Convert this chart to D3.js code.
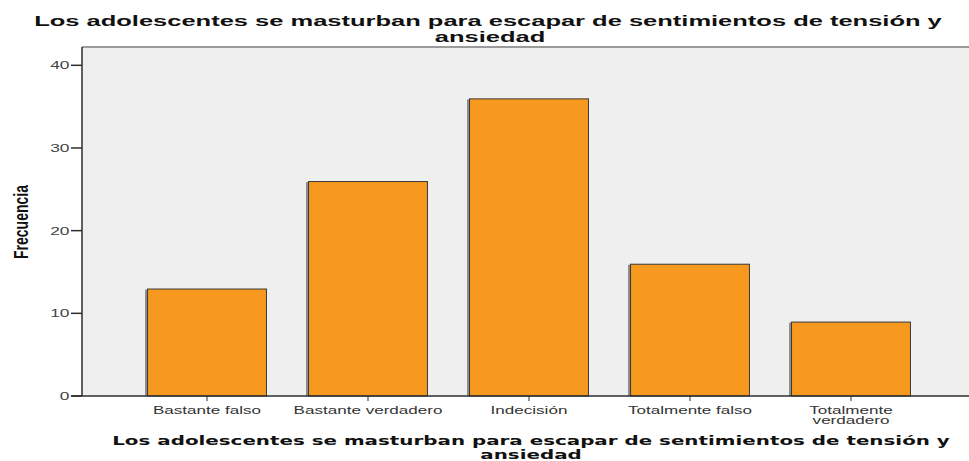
<!DOCTYPE html>
<html>
<head>
<meta charset="utf-8">
<script src="https://cdn.jsdelivr.net/npm/d3@7"></script>
<style>
  html, body { margin: 0; padding: 0; background: #fff; }
  svg { display: block; }
</style>
</head>
<body>
<svg id="chart" width="969" height="461"></svg>
<script>
// Frequency of answers per category
const categories = ["Bastante falso", "Bastante verdadero", "Indecisión", "Totalmente falso", "Totalmente verdadero"];
const categoryLines = [["Bastante falso"], ["Bastante verdadero"], ["Indecisión"], ["Totalmente falso"], ["Totalmente", "verdadero"]];
const frequencies = [13, 26, 36, 16, 9];
const yTicks = [0, 10, 20, 30, 40];
const titleLines = ["Los adolescentes se masturban para escapar de sentimientos de tensión y", "ansiedad"];
const yAxisTitle = "Frecuencia";

const svg = d3.select("#chart");
const SX = 1.58; // horizontal glyph stretch used by the whole figure

const plot = { left: 82, right: 969, top: 47, bottom: 396 };

const x = d3.scaleBand()
  .domain(categories)
  .range([126.5, 931.5])
  .paddingInner(0.255)
  .paddingOuter(0.1275);

const y = d3.scaleLinear().domain([0, 40]).range([396, 65.3]);

// stretched (possibly multi-line) text helper; the first line sets the scale
function sText(parent, tx, ty, lines, opts) {
  lines = [].concat(lines);
  const g = parent.append("g");
  const t = g.append("text")
    .attr("text-anchor", opts.anchor || "middle")
    .style("font-family", opts.family || "'Liberation Sans', Arial, sans-serif")
    .style("font-size", opts.size + "px")
    .style("font-weight", opts.weight || "normal")
    .attr("fill", opts.fill || "#222");
  const spans = lines.map((ln, j) => t.append("tspan")
    .attr("x", 0).attr("y", j * (opts.lh || 0))
    .text(ln));
  let k = opts.k || SX;
  if (opts.width) k = opts.width / spans[0].node().getComputedTextLength();
  g.attr("transform", `translate(${tx},${ty}) scale(${k},1)` + (opts.rotate ? ` rotate(${opts.rotate})` : ""));
  return k;
}

// plot background
svg.append("rect")
  .attr("x", plot.left).attr("y", plot.top)
  .attr("width", plot.right - plot.left).attr("height", plot.bottom - plot.top)
  .attr("fill", "#efefef");
svg.append("line")
  .attr("x1", plot.left).attr("x2", plot.right)
  .attr("y1", plot.top).attr("y2", plot.top)
  .attr("stroke", "#9a9a9a").attr("stroke-width", 2);

// bars with a soft shadow on the left edge
const bars = svg.append("g");
bars.selectAll("rect.shadow")
  .data(frequencies)
  .join("rect")
  .attr("class", "shadow")
  .attr("x", (d, i) => x(categories[i]) - 2)
  .attr("y", d => y(d) + 1)
  .attr("width", x.bandwidth())
  .attr("height", d => y(0) - y(d) - 1)
  .attr("fill", "#8c8c8c");
bars.selectAll("rect.bar")
  .data(frequencies)
  .join("rect")
  .attr("class", "bar")
  .attr("x", (d, i) => x(categories[i]) + 0.5)
  .attr("y", d => y(d) + 0.5)
  .attr("width", x.bandwidth() - 1)
  .attr("height", d => y(0) - y(d) - 0.5)
  .attr("fill", "#f7991e")
  .attr("stroke", "#3a3a3a")
  .attr("stroke-width", 1);

// y axis
const yAxis = svg.append("g");
yAxis.append("line")
  .attr("x1", plot.left).attr("x2", plot.left)
  .attr("y1", plot.top).attr("y2", plot.bottom)
  .attr("stroke", "#2e2e2e").attr("stroke-width", 1.5);
yTicks.forEach(v => {
  yAxis.append("line")
    .attr("x1", 71).attr("x2", plot.left)
    .attr("y1", y(v)).attr("y2", y(v))
    .attr("stroke", "#2e2e2e").attr("stroke-width", 1.5);
  sText(yAxis, 69.5, y(v) + 4, String(v), { size: 11, anchor: "end", fill: "#444" });
});

// x axis
const xAxis = svg.append("g");
xAxis.append("line")
  .attr("x1", 71).attr("x2", plot.right)
  .attr("y1", plot.bottom).attr("y2", plot.bottom)
  .attr("stroke", "#2e2e2e").attr("stroke-width", 1.5);
categories.forEach((c, i) => {
  const cx = x(c) + x.bandwidth() / 2;
  xAxis.append("line")
    .attr("x1", cx).attr("x2", cx)
    .attr("y1", plot.bottom).attr("y2", plot.bottom + 5)
    .attr("stroke", "#2e2e2e").attr("stroke-width", 1);
  sText(xAxis, cx, 413.5, categoryLines[i], { size: 10.8, fill: "#333", lh: 10.2, k: SX });
});

// chart title
const kt = sText(svg, 488, 26, titleLines[0], { size: 13.8, weight: "bold", fill: "#111", width: 908 });
sText(svg, 490, 42, titleLines[1], { size: 13.8, weight: "bold", fill: "#111", k: kt });

// x axis title (one text block, two lines)
const DV = "'DejaVu Sans', Verdana, sans-serif";
sText(svg, 531, 445, titleLines, { size: 12.3, weight: "bold", fill: "#111", family: DV, width: 838, lh: 14.5 });

// y axis title
sText(svg, 28, 222, yAxisTitle, { size: 14, weight: "bold", fill: "#111", rotate: -90, k: 1.5 });
</script>
</body>
</html>
